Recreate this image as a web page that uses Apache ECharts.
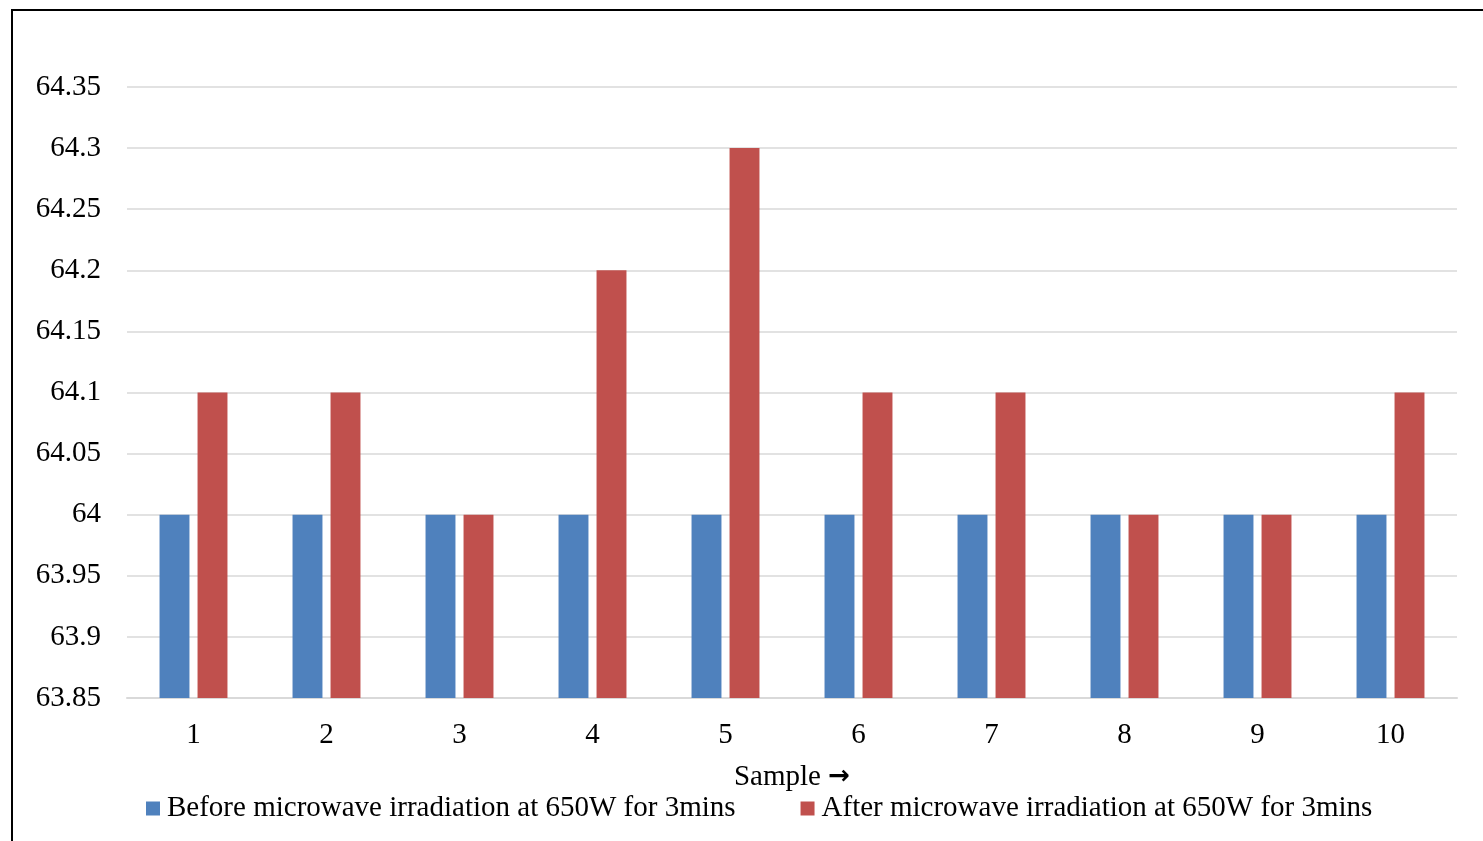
<!DOCTYPE html>
<html>
<head>
<meta charset="utf-8">
<script src="https://cdn.jsdelivr.net/npm/echarts@6/dist/echarts.min.js"></script>
<style>
  html, body { margin: 0; padding: 0; background: #fff; }
  #chart { width: 1483px; height: 841px; }
</style>
</head>
<body>
<div id="chart"></div>
<script>
const samples = ['1', '2', '3', '4', '5', '6', '7', '8', '9', '10'];
const before = [64, 64, 64, 64, 64, 64, 64, 64, 64, 64];
const after = [64.1, 64.1, 64, 64.2, 64.3, 64.1, 64.1, 64, 64, 64.1];

const font = '"Liberation Serif", "Times New Roman", serif';

const myChart = echarts.init(document.getElementById('chart'));

myChart.setOption({
  animation: false,
  textStyle: { fontFamily: font },
  graphic: [
    {
      type: 'polyline',
      shape: { points: [[12, 841], [12, 10], [1483, 10]] },
      style: { stroke: '#000', lineWidth: 2, fill: null }
    }
  ],
  grid: { left: 127, right: 26, top: 87, bottom: 143 },
  legend: {
    left: 146,
    top: 794,
    padding: 0,
    itemWidth: 14,
    itemHeight: 14,
    itemGap: 65,
    icon: 'rect',
    textStyle: { fontFamily: font, fontSize: 29, color: '#000', padding: [0, 0, 0, 2] },
    data: ['Before microwave irradiation at 650W for 3mins', 'After microwave irradiation at 650W for 3mins']
  },
  xAxis: {
    type: 'category',
    data: samples,
    name: 'Sample {arr|\u2192}',
    nameLocation: 'middle',
    nameGap: 65,
    nameTextStyle: {
      fontFamily: font,
      fontSize: 29,
      color: '#000',
      rich: {
        arr: { fontFamily: '"DejaVu Sans"', fontWeight: 'bold', fontSize: 26, color: '#000' }
      }
    },
    axisLine: { lineStyle: { color: '#d9d9d9', width: 2 } },
    axisTick: { show: false },
    axisLabel: { fontFamily: font, fontSize: 29, color: '#000', margin: 23 }
  },
  yAxis: {
    type: 'value',
    min: 63.85,
    max: 64.35,
    interval: 0.05,
    axisLine: { show: false },
    axisTick: { show: false },
    splitLine: { lineStyle: { color: '#d9d9d9', width: 1.5 } },
    axisLabel: {
      fontFamily: font,
      fontSize: 29,
      color: '#000',
      margin: 26,
      padding: [4, 0, 0, 0],
      formatter: (v) => String(parseFloat(v.toFixed(2)))
    }
  },
  series: [
    {
      name: 'Before microwave irradiation at 650W for 3mins',
      type: 'bar',
      data: before,
      barWidth: '22.5%',
      barGap: '27%',
      itemStyle: { color: '#4f81bd' }
    },
    {
      name: 'After microwave irradiation at 650W for 3mins',
      type: 'bar',
      data: after,
      barWidth: '22.5%',
      itemStyle: { color: '#c0504d' }
    }
  ]
});
</script>
</body>
</html>
